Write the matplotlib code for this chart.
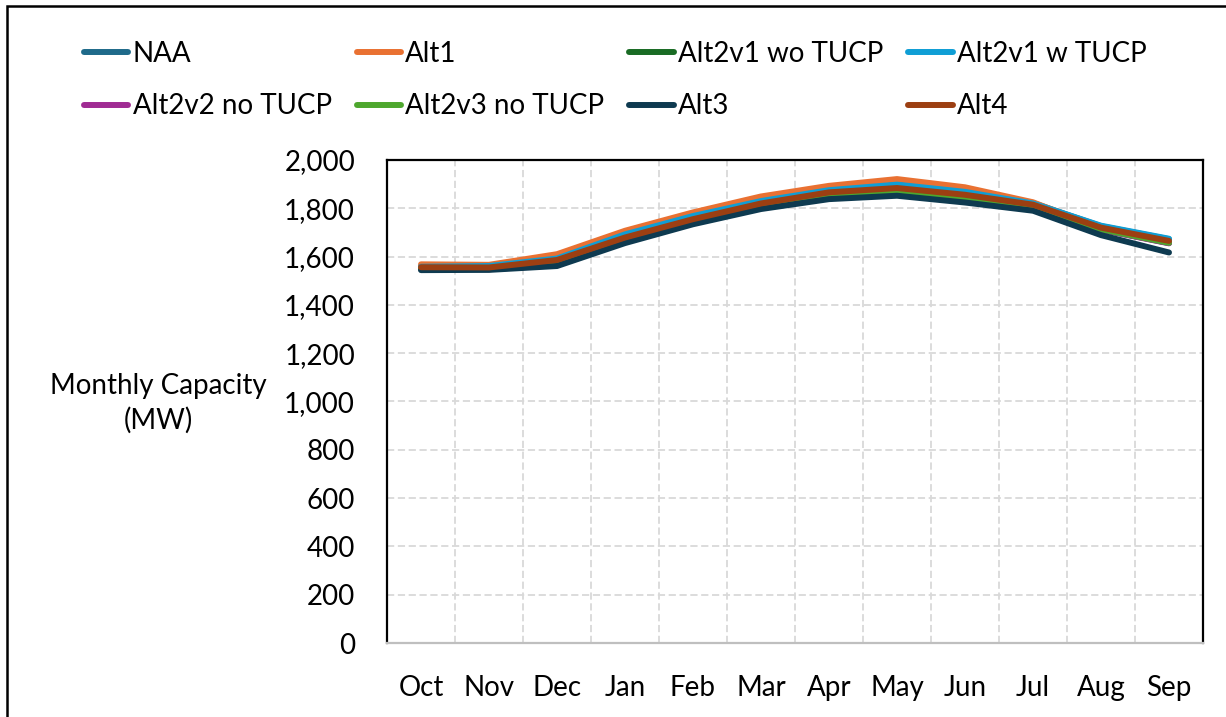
import matplotlib.pyplot as plt
import numpy as np
from matplotlib.patches import Rectangle

months = ["Oct", "Nov", "Dec", "Jan", "Feb", "Mar", "Apr", "May", "Jun", "Jul", "Aug", "Sep"]

naa = [1560, 1563, 1593, 1693, 1769, 1831, 1876, 1900, 1870, 1822, 1726, 1672]
alt1 = [1568, 1566, 1610, 1707, 1783, 1849, 1893, 1921, 1887, 1825, 1716, 1658]
alt2v1_wo = [1550, 1548, 1565, 1667, 1744, 1808, 1852, 1866, 1835, 1806, 1712, 1656]
alt2v1_w = [1558, 1561, 1592, 1692, 1768, 1830, 1875, 1898, 1868, 1820, 1728, 1674]
alt2v2 = [1550, 1548, 1564, 1666, 1743, 1807, 1851, 1865, 1834, 1805, 1711, 1655]
alt2v3 = [1551, 1549, 1566, 1668, 1745, 1809, 1853, 1867, 1836, 1807, 1713, 1657]
alt3 = [1544, 1545, 1561, 1656, 1734, 1797, 1838, 1852, 1824, 1790, 1689, 1617]
alt4 = [1556, 1555, 1586, 1679, 1755, 1820, 1866, 1884, 1856, 1815, 1720, 1665]

labels = ["NAA", "Alt1", "Alt2v1 wo TUCP", "Alt2v1 w TUCP",
          "Alt2v2 no TUCP", "Alt2v3 no TUCP", "Alt3", "Alt4"]
series = [naa, alt1, alt2v1_wo, alt2v1_w, alt2v2, alt2v3, alt3, alt4]
colors = ["#1F6A8A", "#E97132", "#196B24", "#0F9ED5",
          "#A02B93", "#4EA72E", "#0E3A50", "#9C3F12"]

plt.rcParams['font.family'] = ['Lato', 'DejaVu Sans']

fig = plt.figure(figsize=(12.26, 7.17), dpi=100)
ax = fig.add_axes([387 / 1226, 1 - 643 / 717, 816 / 1226, 483 / 717])

x = np.arange(len(months))
handles = []
for vals, lab, c in zip(series, labels, colors):
    h, = ax.plot(x, vals, color=c, lw=4.3, solid_capstyle='round',
                 solid_joinstyle='round', label=lab)
    handles.append(h)

ax.set_xlim(-0.5, 11.5)
ax.set_ylim(0, 2000)
ax.set_yticks(np.arange(0, 2001, 200))
ax.set_yticklabels([f"{v:,}" for v in range(0, 2001, 200)])
ax.set_xticks(x)
ax.set_xticklabels(months)
ax.set_xticks(np.arange(0.5, 11, 1), minor=True)

ax.grid(axis='y', which='major', color='#D9D9D9', ls=(0, (4, 2)), lw=1.3)
ax.grid(axis='x', which='minor', color='#D9D9D9', ls=(0, (4, 2)), lw=1.3)
ax.set_axisbelow(True)
ax.tick_params(axis='both', which='both', length=0, labelsize=20)
ax.tick_params(axis='y', pad=23)
ax.tick_params(axis='x', pad=23)

for s in ['left', 'top', 'right']:
    ax.spines[s].set_color('black')
    ax.spines[s].set_linewidth(1.6)
ax.spines['bottom'].set_color('#BFBFBF')
ax.spines['bottom'].set_linewidth(1.6)

fig.text(158 / 1226, 1 - 403 / 717, "Monthly Capacity\n(MW)", fontsize=20,
         ha='center', va='center', linespacing=1.35)

# legend is filled column by column, so reorder to read row by row
order = [0, 4, 1, 5, 2, 6, 3, 7]
fig.legend(handles=[handles[i] for i in order], loc='upper left', ncol=4,
           bbox_to_anchor=(84 / 1226, 1 - 41 / 717), frameon=False,
           fontsize=20, handlelength=1.6, handletextpad=0.15,
           columnspacing=0.9, labelspacing=0.95, borderpad=0, borderaxespad=0)

fig.add_artist(Rectangle((7 / 1226, -0.1), 1.2, 1.1 - 6 / 717, transform=fig.transFigure,
                         fill=False, ec='black', lw=1.8, clip_on=False))

fig.savefig("out.png", dpi=100)
